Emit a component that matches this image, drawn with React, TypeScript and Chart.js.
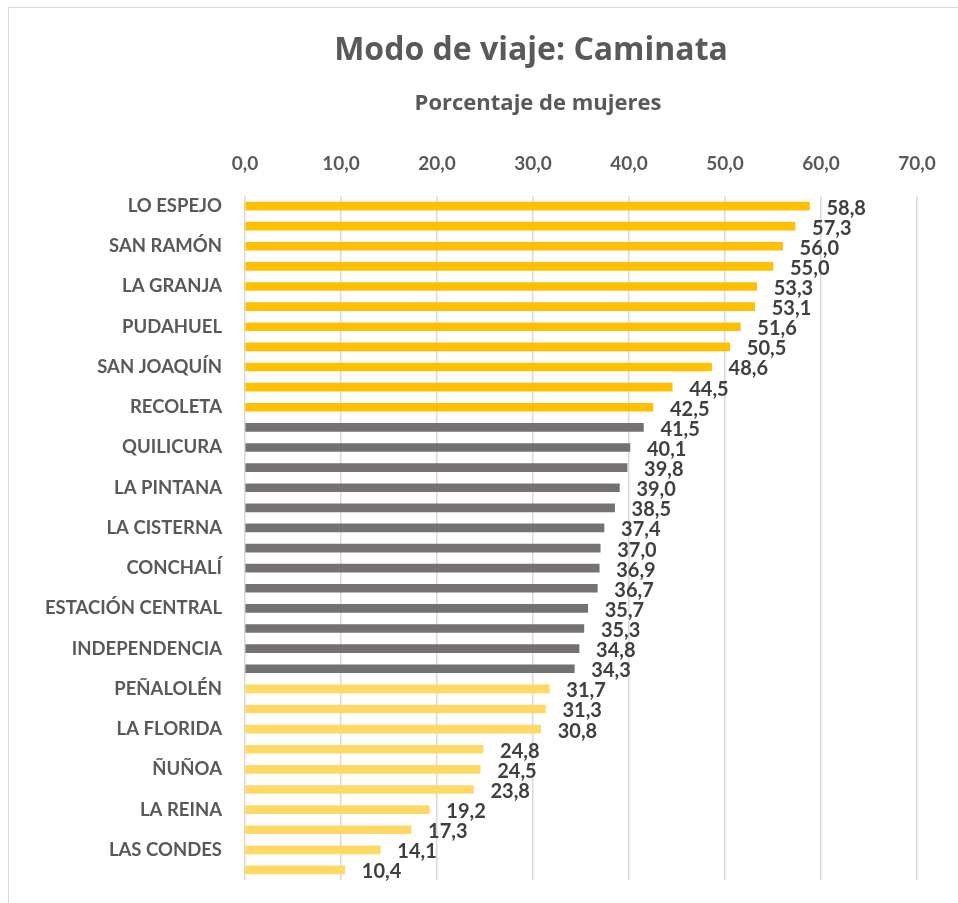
import React, { useEffect, useRef } from "react";
import { Chart, registerables } from "chart.js";

Chart.register(...registerables);

const titleText = "Modo de viaje: Caminata";
const subtitleText = "Porcentaje de mujeres";

const comunas = [
  "LO ESPEJO", "EL BOSQUE", "SAN RAMÓN", "CERRO NAVIA", "LA GRANJA", "LO PRADO",
  "PUDAHUEL", "PEDRO AGUIRRE CERDA", "SAN JOAQUÍN", "RENCA", "RECOLETA",
  "QUINTA NORMAL", "QUILICURA", "HUECHURABA", "LA PINTANA", "PUENTE ALTO",
  "LA CISTERNA", "SAN BERNARDO", "CONCHALÍ", "CERRILLOS", "ESTACIÓN CENTRAL",
  "MAIPÚ", "INDEPENDENCIA", "SAN MIGUEL", "PEÑALOLÉN", "MACUL", "LA FLORIDA",
  "SANTIAGO", "ÑUÑOA", "LO BARNECHEA", "LA REINA", "PROVIDENCIA", "LAS CONDES",
  "VITACURA",
];

const porcentajes = [
  58.8, 57.3, 56.0, 55.0, 53.3, 53.1, 51.6, 50.5, 48.6, 44.5, 42.5,
  41.5, 40.1, 39.8, 39.0, 38.5, 37.4, 37.0, 36.9, 36.7, 35.7, 35.3, 34.8, 34.3,
  31.7, 31.3, 30.8, 24.8, 24.5, 23.8, 19.2, 17.3, 14.1, 10.4,
];

const groupSizes = [11, 13, 10];
const groupColors = ["#FFC000", "#767171", "#FFD966"];

const xTicks = [0, 10, 20, 30, 40, 50, 60, 70];

const FONT = "Lato, 'Open Sans', sans-serif";
const TITLE_FONT = "'Open Sans', Lato, sans-serif";

function fmt(v: number): string {
  return v.toFixed(1).replace(".", ",");
}

function barColors(): string[] {
  const out: string[] = [];
  groupSizes.forEach((n, g) => {
    for (let i = 0; i < n; i++) out.push(groupColors[g]);
  });
  return out;
}

const valueLabels = {
  id: "valueLabels",
  afterDatasetsDraw(chart: any) {
    const ctx = chart.ctx;
    const meta = chart.getDatasetMeta(0);
    ctx.save();
    ctx.font = `bold 20px ${FONT}`;
    ctx.fillStyle = "#404040";
    ctx.textAlign = "left";
    ctx.textBaseline = "middle";
    meta.data.forEach((el: any, i: number) => {
      const v = chart.data.datasets[0].data[i] as number;
      ctx.fillText(fmt(v), el.x + 17, el.y + 2);
    });
    ctx.restore();
  },
};

const titles = {
  id: "titles",
  afterDraw(chart: any) {
    const ctx = chart.ctx;
    ctx.save();
    ctx.fillStyle = "#595959";
    ctx.textAlign = "center";
    ctx.textBaseline = "middle";
    ctx.font = `bold 32px ${TITLE_FONT}`;
    ctx.fillText(titleText, 531, 51);
    ctx.font = `bold 22px ${TITLE_FONT}`;
    ctx.fillText(subtitleText, 538, 104);
    ctx.restore();
  },
};

export default function App() {
  const ref = useRef<HTMLCanvasElement | null>(null);

  useEffect(() => {
    if (!ref.current) return;
    const chart = new Chart(ref.current, {
      type: "bar",
      data: {
        labels: comunas,
        datasets: [
          {
            data: porcentajes,
            backgroundColor: barColors(),
            barThickness: 8,
          },
        ],
      },
      options: {
        indexAxis: "y",
        animation: false,
        responsive: false,
        maintainAspectRatio: false,
        layout: { padding: { left: 10, right: 41, top: 118, bottom: 23 } },
        plugins: {
          legend: { display: false },
          tooltip: { enabled: false },
          title: { display: false },
        },
        scales: {
          x: {
            position: "top",
            min: 0,
            max: 70,
            afterBuildTicks: (s: any) => {
              s.ticks = xTicks.map((v) => ({ value: v }));
            },
            afterFit: (s: any) => {
              s.height = 78;
              s.paddingLeft = 0;
              s.paddingRight = 0;
            },
            ticks: {
              color: "#595959",
              font: { family: FONT, size: 19, weight: "bold", lineHeight: 1.2 },
              padding: 21,
              callback: (v: any) => fmt(Number(v)),
            },
            grid: { color: "#d9d9d9", lineWidth: 1.5, drawTicks: false },
            border: { display: false },
          },
          y: {
            afterFit: (s: any) => {
              s.width = 235;
              s.paddingTop = 0;
              s.paddingBottom = 0;
            },
            ticks: {
              autoSkip: false,
              color: "#595959",
              font: { family: FONT, size: 18.5, weight: "bold" },
              padding: 23,
              callback: (_v: any, i: number) => (i % 2 === 0 ? comunas[i] : ""),
            },
            grid: { display: false, drawTicks: false },
            border: { display: false },
          },
        },
      },
      plugins: [valueLabels, titles],
    });
    return () => chart.destroy();
  }, []);

  return (
    <div style={{ position: "fixed", left: 0, top: 0, width: 958, height: 903, overflow: "hidden", background: "#fff" }}>
      <canvas ref={ref} width={958} height={903} style={{ position: "absolute", left: 0, top: 0 }} />
      <div
        style={{
          position: "absolute",
          left: 8,
          top: 7,
          width: 980,
          height: 930,
          border: "1px solid #d9d9d9",
          pointerEvents: "none",
        }}
      />
    </div>
  );
}
